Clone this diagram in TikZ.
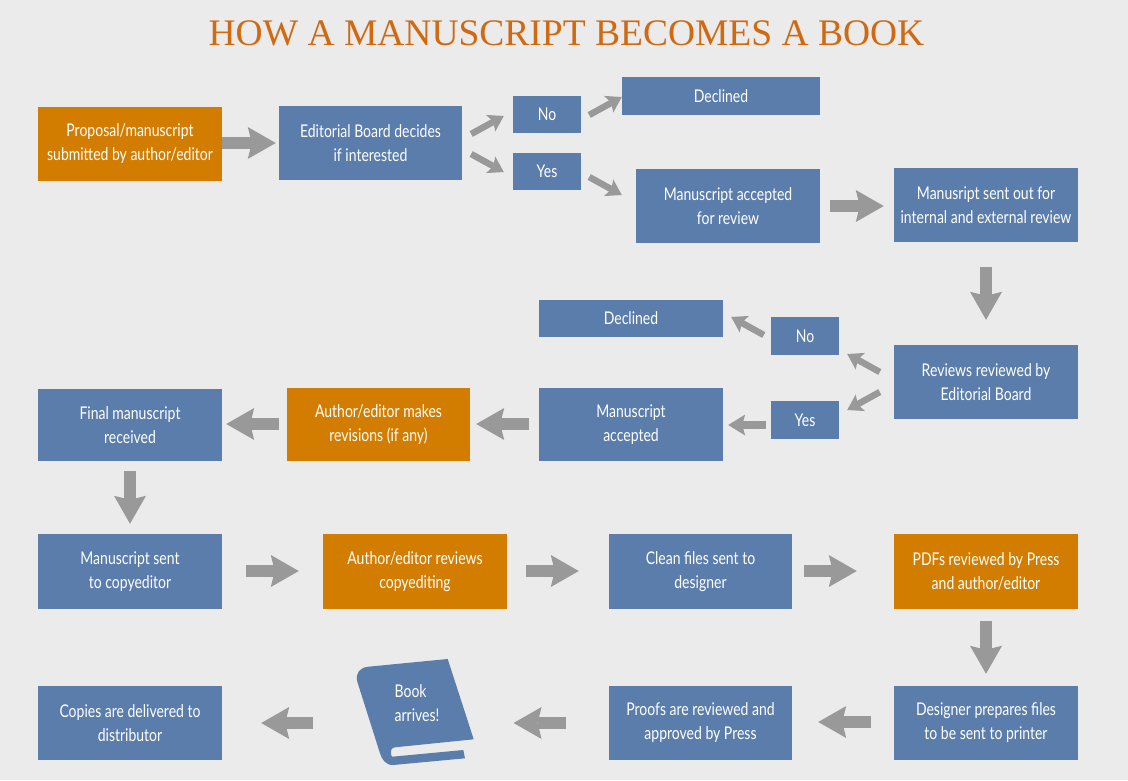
\documentclass[tikz,border=0pt]{standalone}
\usepackage{fontspec}
\setmainfont[FakeStretch=0.8]{Lato}
\newfontfamily\titlefont{Liberation Serif}
\usetikzlibrary{arrows.meta}
\definecolor{bg}{HTML}{EBEBEB}
\definecolor{bluebox}{HTML}{5A7DAB}
\definecolor{orangebox}{HTML}{D27D00}
\definecolor{arrowgrey}{HTML}{999999}
\definecolor{titlecol}{HTML}{D0690F}
\tikzset{
  box/.style={fill=bluebox,text=white,align=center,inner sep=0pt,minimum width=184pt,minimum height=74pt,
    font=\fontsize{17.5}{24}\selectfont},
  obox/.style={box,fill=orangebox},
  big/.style={draw=arrowgrey,line width=12pt,-{Stealth[length=28pt,width=32pt,inset=4pt,line width=0pt,fill=arrowgrey]}},
  med/.style={draw=arrowgrey,line width=8pt,-{Stealth[length=17pt,width=21pt,inset=3pt,line width=0pt,fill=arrowgrey]}},
  small/.style={draw=arrowgrey,line width=6.5pt,-{Stealth[length=15pt,width=19pt,inset=3pt,line width=0pt,fill=arrowgrey]}},
}
\begin{document}
\begin{tikzpicture}[x=1pt,y=-1pt]
\useasboundingbox (0,0) rectangle (1128,780);
\fill[bg] (0,0) rectangle (1128,780);
\node[text=titlecol,inner sep=0pt,font=\titlefont\fontsize{37.5}{40}\selectfont] (title) at (566.5,33) {HOW A MANUSCRIPT BECOMES A BOOK};
% row 1
\node[obox] (prop) at (130,144) {Proposal/manuscript\\submitted by author/editor};
\node[box,minimum width=183pt] (ed) at (370.5,143) {Editorial Board decides\\if interested};
\node[box,minimum width=68pt,minimum height=37pt] (no1) at (547,114.5) {No};
\node[box,minimum width=68pt,minimum height=37pt] (yes1) at (547,171.5) {Yes};
\node[box,minimum width=198pt,minimum height=38pt] (dec1) at (721,96) {Declined};
\node[box] (acc) at (728,206) {Manuscript accepted\\for review};
\node[box] (sent) at (986,205) {Manusript sent out for\\internal and external review};
% row 2
\node[box] (rev) at (986,382) {Reviews reviewed by\\Editorial Board};
\node[box,minimum width=68pt,minimum height=38pt] (no2) at (805,336) {No};
\node[box,minimum width=68pt,minimum height=38pt] (yes2) at (805,420) {Yes};
\node[box,minimum height=37pt] (dec2) at (631,318.5) {Declined};
\node[box,minimum height=73pt] (ma) at (631,424.5) {Manuscript\\accepted};
\node[obox,minimum width=183pt,minimum height=73pt] (rv) at (378.5,424.5) {Author/editor makes\\revisions (if any)};
\node[box,minimum height=72pt] (final) at (130,425) {Final manuscript\\received};
% row 3
\node[box,minimum height=75pt] (ce) at (130,571.5) {Manuscript sent\\to copyeditor};
\node[obox,minimum height=75pt] (ar) at (415,571.5) {Author/editor reviews\\copyediting};
\node[box,minimum width=183pt,minimum height=75pt] (clean) at (700.5,571.5) {Clean files sent to\\designer};
\node[obox,minimum height=75pt] (pdf) at (986,571.5) {PDFs reviewed by Press\\and author/editor};
% row 4
\node[box] (des) at (986,723) {Designer prepares files\\to be sent to printer};
\node[box,minimum width=183pt] (proofs) at (700.5,723) {Proofs are reviewed and\\approved by Press};
\node[box] (copies) at (130,723) {Copies are delivered to\\distributor};
% book
\fill[bluebox] (447.7,659) -- (473.7,739.3) -- (395,747.3)
  .. controls (391.5,747.7) and (390,751) .. (391,753.5)
  .. controls (391.3,755.5) and (391.5,756.8) .. (392.3,756.7)
  -- (463.3,750) -- (465,758.3) -- (393.3,765)
  .. controls (386,765.5) and (381.5,759) .. (380,753.3)
  -- (357.3,681.7)
  .. controls (355,673) and (360,667.5) .. (368.3,666.7) -- cycle;
\node[text=white,align=left,inner sep=0pt,font=\fontsize{17.5}{24.5}\selectfont,minimum width=44pt] (booklabel) at (417,703) {Book\\arrives!};
% connectors
\draw[big] ([shift={(0,-1)}]prop.east) -- ([shift={(-3,0)}]ed.west);
\draw[small] ([shift={(9,-9)}]ed.east) -- ([shift={(-9,1.5)}]no1.west);
\draw[small] ([shift={(9,11)}]ed.east) -- ([shift={(-9,0.5)}]yes1.west);
\draw[small] ([shift={(8,0.5)}]no1.east) -- ([shift={(0,1)}]dec1.west);
\draw[small] ([shift={(8,5.5)}]yes1.east) -- ([shift={(-14,-11)}]acc.west);
\draw[big] ([shift={(10,0)}]acc.east) -- ([shift={(-10,1)}]sent.west);
\draw[big] ([shift={(0,25)}]sent.south) -- ([shift={(0,-25)}]rev.north);
\draw[small] ([shift={(-14,-10)}]rev.west) -- ([shift={(8,18)}]no2.east);
\draw[small] ([shift={(-14,10)}]rev.west) -- ([shift={(8,-10)}]yes2.east);
\draw[small] ([shift={(-7,-1)}]no2.west) -- ([shift={(8,-1.5)}]dec2.east);
\draw[med] ([shift={(-5,5)}]yes2.west) -- ([shift={(5,0.5)}]ma.east);
\draw[big] ([shift={(-10,-0.5)}]ma.west) -- ([shift={(6,-0.5)}]rv.east);
\draw[big] ([shift={(-8,-0.5)}]rv.west) -- ([shift={(4,-1)}]final.east);
\draw[big] ([shift={(0,10)}]final.south) -- ([shift={(0,-10)}]ce.north);
\draw[big] ([shift={(24,-0.5)}]ce.east) -- ([shift={(-24,-0.5)}]ar.west);
\draw[big] ([shift={(19,-0.5)}]ar.east) -- ([shift={(-30,-0.5)}]clean.west);
\draw[big] ([shift={(12,-0.5)}]clean.east) -- ([shift={(-37,-0.5)}]pdf.west);
\draw[big] ([shift={(0,12)}]pdf.south) -- ([shift={(0,-12)}]des.north);
\draw[big] ([shift={(-23,-1)}]des.west) -- ([shift={(26,-1)}]proofs.east);
\draw[big] ([shift={(-43,0)}]proofs.west) -- ([shift={(74,20)}]booklabel.east);
\draw[big] ([shift={(-81,20)}]booklabel.west) -- ([shift={(39,0)}]copies.east);
\end{tikzpicture}
\end{document}
